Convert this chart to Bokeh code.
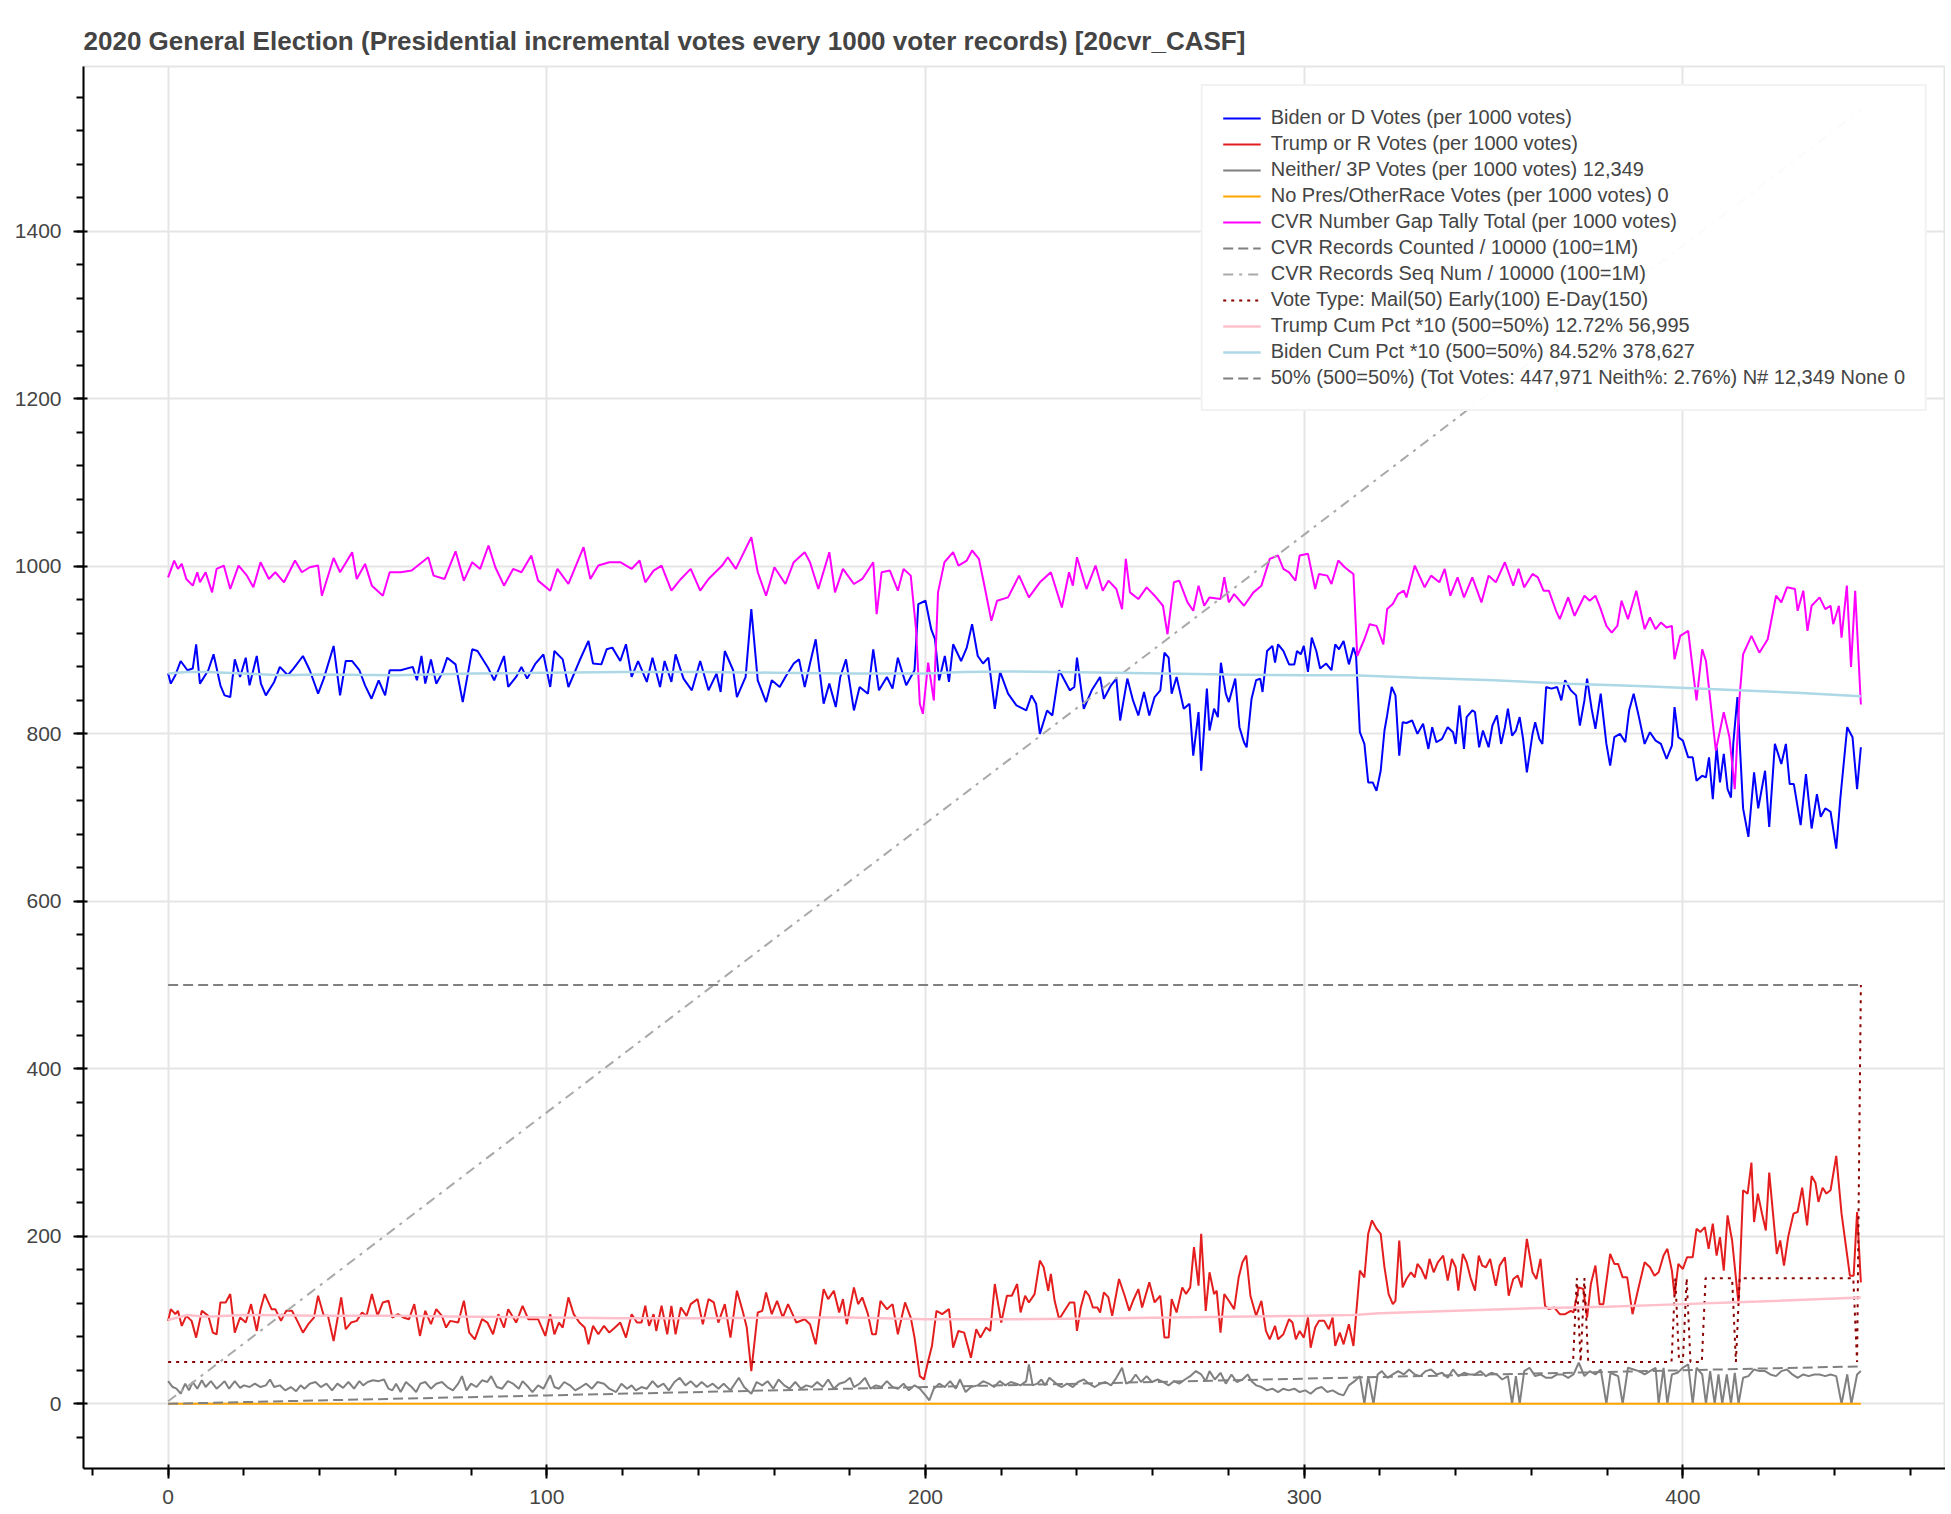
from bokeh.plotting import figure
from bokeh.models import Range1d, SingleIntervalTicker
from bokeh.embed import file_html
from bokeh.resources import INLINE

TITLE = "2020 General Election (Presidential incremental votes every 1000 voter records) [20cvr_CASF]"

LABELS = [
    "Biden or D Votes (per 1000 votes)",
    "Trump or R Votes (per 1000 votes)",
    "Neither/ 3P Votes (per 1000 votes) 12,349",
    "No Pres/OtherRace Votes (per 1000 votes) 0",
    "CVR Number Gap Tally Total (per 1000 votes)",
    "CVR Records Counted / 10000 (100=1M)",
    "CVR Records Seq Num / 10000 (100=1M)",
    "Vote Type: Mail(50) Early(100) E-Day(150)",
    "Trump Cum Pct *10 (500=50%) 12.72% 56,995",
    "Biden Cum Pct *10 (500=50%) 84.52% 378,627",
    "50% (500=50%) (Tot Votes: 447,971 Neith%: 2.76%) N# 12,349 None 0",
]

# (record block, value) readings
biden = [
    (0.0, 872), (0.7, 860), (1.9, 870), (3.3, 887), (5.1, 876), (6.5, 878), (7.4, 907), (8.4, 860),
    (10.6, 876), (12.0, 895), (13.8, 858), (14.9, 846), (16.4, 844), (17.6, 889), (19.0, 868), (20.5, 891),
    (21.5, 858), (23.4, 893), (24.5, 860), (25.8, 846), (28.0, 862), (29.5, 880), (31.6, 870), (33.1, 878),
    (35.6, 893), (37.4, 876), (39.6, 848), (41.1, 866), (43.7, 905), (45.4, 846), (46.9, 887), (48.6, 887),
    (50.5, 876), (52.0, 858), (53.7, 842), (55.6, 864), (57.3, 846), (58.5, 876), (61.4, 876), (64.6, 880),
    (65.7, 864), (66.9, 893), (67.9, 860), (69.4, 889), (70.8, 860), (72.3, 872), (73.7, 891), (75.9, 883),
    (77.8, 838), (80.3, 901), (81.7, 899), (84.6, 878), (86.1, 864), (88.7, 893), (89.8, 856), (91.9, 868),
    (93.3, 880), (94.8, 866), (97.0, 884), (99.1, 895), (100.9, 856), (102.0, 899), (104.2, 889), (105.7, 856),
    (108.6, 887), (111.0, 911), (112.2, 884), (114.4, 883), (115.8, 901), (117.3, 903), (119.4, 887), (120.9, 907),
    (122.4, 868), (124.1, 887), (126.4, 862), (127.9, 891), (129.9, 856), (131.1, 887), (132.9, 862), (134.0, 895),
    (136.1, 866), (138.3, 852), (140.5, 887), (142.7, 852), (144.8, 872), (145.9, 850), (147.0, 899), (149.2, 876),
    (150.2, 844), (152.5, 868), (154.0, 949), (155.7, 864), (157.9, 838), (159.4, 864), (161.5, 856), (163.0, 868),
    (165.2, 884), (166.6, 889), (168.1, 856), (169.5, 884), (171.0, 913), (173.1, 836), (174.6, 860), (176.3, 832),
    (177.5, 868), (179.0, 889), (181.1, 828), (182.6, 856), (184.8, 848), (186.2, 901), (187.7, 852), (189.8, 868),
    (191.3, 854), (192.7, 891), (194.9, 858), (197.1, 876), (198.1, 955), (200.0, 959), (201.5, 925), (202.5, 913),
    (203.6, 864), (205.1, 893), (206.2, 862), (207.3, 907), (209.4, 887), (210.9, 903), (212.3, 931), (213.8, 893),
    (215.2, 884), (216.6, 891), (218.3, 830), (219.7, 874), (221.8, 848), (224.0, 834), (226.6, 828), (228.0, 846),
    (229.2, 836), (230.2, 800), (232.1, 828), (233.5, 822), (235.3, 876), (236.7, 864), (238.1, 852), (239.3, 856),
    (240.0, 891), (241.8, 830), (243.9, 852), (246.1, 868), (247.1, 842), (249.0, 858), (250.4, 866), (251.4, 816),
    (253.3, 866), (254.8, 840), (256.2, 822), (257.7, 850), (259.1, 822), (260.5, 844), (262.0, 852), (263.1, 897),
    (264.2, 891), (265.0, 848), (266.3, 868), (268.2, 830), (269.7, 836), (270.7, 774), (272.1, 826), (272.8, 756),
    (274.3, 854), (275.0, 804), (276.2, 830), (277.2, 820), (278.0, 885), (279.3, 848), (280.1, 838), (281.8, 866),
    (282.9, 808), (284.1, 790), (284.8, 784), (286.1, 842), (287.3, 864), (288.4, 866), (289.0, 850), (290.2, 899),
    (291.6, 905), (292.3, 885), (293.1, 907), (294.5, 899), (296.0, 883), (297.4, 883), (298.1, 899), (299.1, 895),
    (299.9, 905), (301.0, 874), (302.0, 915), (303.2, 899), (304.2, 878), (305.8, 884), (307.2, 876), (308.2, 907),
    (309.2, 901), (310.4, 911), (311.8, 883), (313.0, 903), (313.7, 893), (314.7, 802), (315.9, 788), (316.9, 742),
    (318.1, 742), (319.1, 732), (320.2, 756), (321.2, 804), (321.9, 822), (323.1, 856), (324.1, 846), (325.1, 774),
    (326.0, 814), (327.0, 813), (328.5, 816), (329.9, 800), (331.4, 812), (332.8, 782), (333.8, 808), (334.9, 790),
    (336.4, 794), (337.9, 808), (339.3, 802), (340.0, 788), (341.0, 834), (342.2, 782), (342.9, 820), (344.4, 828),
    (345.1, 826), (346.2, 784), (347.2, 804), (348.7, 784), (349.7, 810), (350.9, 822), (352.0, 788), (353.0, 808),
    (353.8, 830), (354.9, 798), (355.9, 804), (356.9, 820), (357.8, 794), (358.8, 754), (360.3, 800), (361.0, 814),
    (362.1, 794), (362.9, 788), (363.9, 856), (365.3, 854), (366.8, 856), (367.9, 840), (368.9, 864), (370.4, 852),
    (371.8, 846), (372.8, 810), (374.0, 840), (374.7, 866), (375.9, 830), (376.9, 806), (378.3, 848), (379.8, 788),
    (380.8, 762), (381.9, 796), (383.4, 800), (384.8, 790), (385.8, 828), (387.0, 848), (388.4, 820), (389.9, 788),
    (391.3, 802), (392.8, 792), (394.2, 788), (395.7, 770), (397.1, 786), (397.8, 832), (398.8, 796), (400.0, 792),
    (401.4, 772), (402.6, 772), (403.6, 744), (405.1, 750), (406.1, 748), (406.9, 772), (407.9, 722), (408.9, 784),
    (409.8, 742), (410.8, 776), (411.8, 734), (412.7, 724), (413.3, 788), (414.4, 844), (415.9, 711), (417.3, 677),
    (418.8, 754), (419.9, 711), (421.7, 756), (422.8, 689), (424.3, 788), (426.0, 764), (427.2, 788), (428.2, 740),
    (429.3, 740), (431.1, 691), (432.5, 752), (434.0, 687), (435.4, 728), (436.4, 701), (437.6, 711), (439.0, 707),
    (440.5, 663), (441.6, 724), (443.4, 808), (444.8, 796), (446.0, 734), (447.0, 784),
]

trump = [
    (0.0, 99), (0.7, 113), (1.9, 107), (2.6, 111), (3.6, 93), (4.8, 105), (6.2, 99), (7.4, 79), (8.9, 111),
    (10.6, 105), (11.8, 85), (12.8, 83), (13.8, 121), (15.2, 121), (16.4, 131), (17.6, 85), (19.0, 103),
    (20.5, 97), (21.9, 119), (23.4, 87), (24.4, 113), (25.5, 131), (27.3, 113), (28.3, 113), (29.8, 99),
    (31.2, 111), (32.7, 111), (34.1, 99), (35.6, 85), (37.0, 95), (38.5, 103), (39.6, 129), (41.1, 105),
    (42.2, 105), (43.7, 75), (45.7, 127), (46.9, 89), (48.3, 97), (49.8, 99), (51.2, 109), (52.4, 105),
    (53.8, 131), (55.3, 105), (56.7, 121), (58.2, 123), (59.2, 103), (60.7, 107), (62.1, 103), (63.6, 101),
    (65.0, 119), (66.5, 81), (67.9, 111), (69.4, 95), (70.8, 113), (72.3, 105), (73.4, 91), (74.5, 99),
    (76.6, 97), (78.1, 123), (79.5, 85), (81.0, 77), (82.9, 101), (84.3, 97), (85.8, 83), (87.2, 107),
    (88.7, 91), (89.8, 113), (91.9, 97), (93.6, 117), (95.1, 101), (97.7, 101), (99.6, 81), (100.9, 107),
    (102.0, 83), (103.2, 97), (104.2, 91), (105.7, 127), (107.1, 107), (108.6, 97), (110.0, 91), (111.0, 71),
    (112.2, 93), (113.6, 83), (115.1, 93), (116.5, 85), (118.0, 91), (119.4, 97), (120.9, 79), (122.4, 107),
    (123.8, 97), (125.0, 97), (126.0, 117), (127.0, 93), (128.2, 107), (128.9, 87), (130.3, 117), (131.8, 83),
    (132.9, 117), (134.0, 83), (135.4, 115), (136.9, 105), (138.0, 119), (139.8, 125), (141.2, 95), (142.7, 125),
    (144.1, 121), (145.3, 97), (147.0, 119), (148.5, 79), (150.2, 135), (151.7, 111), (152.8, 91), (154.0, 39),
    (155.7, 109), (156.9, 111), (157.9, 133), (159.4, 107), (160.8, 123), (162.3, 103), (163.7, 119), (165.9, 97),
    (168.1, 101), (169.5, 95), (171.0, 71), (173.1, 137), (174.3, 125), (175.8, 135), (177.2, 109), (178.2, 125),
    (179.2, 95), (181.1, 139), (182.2, 119), (183.3, 127), (184.8, 107), (185.9, 83), (186.9, 83), (188.1, 123),
    (189.8, 113), (191.3, 119), (192.7, 83), (194.6, 121), (196.1, 103), (197.1, 79), (198.5, 33), (199.6, 29),
    (200.7, 51), (201.7, 69), (202.9, 111), (204.4, 107), (206.2, 113), (207.3, 67), (208.7, 87), (210.2, 85),
    (212.0, 55), (213.4, 89), (214.5, 79), (216.0, 91), (217.1, 87), (218.3, 143), (220.0, 97), (221.5, 129),
    (222.8, 129), (224.2, 143), (225.1, 109), (226.3, 129), (227.3, 121), (228.8, 131), (230.2, 171), (231.2, 163),
    (232.4, 135), (233.1, 155), (234.1, 123), (235.3, 101), (236.7, 111), (238.1, 121), (239.3, 121), (240.0, 87),
    (241.0, 115), (242.2, 135), (243.2, 129), (244.2, 115), (245.4, 115), (246.1, 109), (247.1, 133), (248.3, 127),
    (249.3, 105), (251.1, 149), (252.6, 129), (253.8, 111), (254.8, 123), (256.2, 137), (257.2, 115), (259.1, 145),
    (260.5, 121), (262.0, 129), (263.1, 79), (264.2, 79), (265.0, 125), (266.3, 109), (267.8, 139), (268.8, 131),
    (269.9, 139), (270.9, 187), (272.1, 141), (272.8, 203), (274.0, 111), (275.0, 157), (276.2, 131), (276.9, 135),
    (277.9, 85), (278.9, 131), (280.1, 123), (281.5, 113), (282.7, 151), (283.7, 169), (284.7, 177), (285.8, 129),
    (287.3, 105), (288.7, 123), (289.9, 87), (290.9, 77), (292.3, 93), (293.1, 77), (294.5, 83), (296.0, 101),
    (296.9, 97), (297.8, 77), (298.8, 87), (299.9, 79), (301.0, 103), (301.7, 67), (302.9, 91), (303.9, 99),
    (305.3, 99), (306.5, 89), (307.5, 103), (308.2, 69), (309.4, 85), (310.4, 71), (311.8, 95), (313.0, 69),
    (314.7, 159), (315.9, 151), (316.9, 203), (317.9, 219), (319.1, 209), (320.2, 203), (321.2, 163), (322.3, 131),
    (323.4, 119), (324.1, 123), (325.1, 195), (326.0, 139), (327.0, 149), (328.2, 157), (329.2, 151), (329.9, 167),
    (330.9, 161), (332.1, 149), (333.1, 173), (334.2, 157), (335.3, 169), (336.7, 177), (337.9, 147), (339.0, 173),
    (340.0, 163), (340.7, 135), (341.9, 179), (342.9, 169), (343.9, 151), (345.1, 135), (346.1, 177), (347.0, 165),
    (348.0, 163), (349.1, 173), (350.6, 141), (351.6, 165), (353.0, 175), (354.0, 129), (355.2, 149), (356.4, 153),
    (357.4, 139), (358.8, 197), (360.3, 157), (361.3, 149), (362.4, 173), (363.6, 117), (364.6, 113), (366.0, 115),
    (367.5, 107), (368.9, 107), (370.4, 111), (371.1, 109), (372.5, 139), (373.7, 137), (374.7, 103), (375.7, 143),
    (376.9, 165), (378.0, 119), (379.0, 119), (380.8, 179), (381.9, 167), (382.9, 167), (384.1, 151), (385.3, 151),
    (386.7, 107), (388.1, 135), (389.9, 169), (391.3, 163), (392.5, 153), (393.6, 157), (394.9, 177), (395.9, 185),
    (397.1, 159), (397.8, 129), (398.8, 167), (400.0, 161), (401.1, 175), (402.6, 175), (403.6, 209), (404.6, 205),
    (405.8, 211), (406.8, 185), (407.9, 215), (408.9, 177), (409.8, 199), (410.8, 159), (411.8, 225), (413.0, 195),
    (414.7, 119), (415.9, 255), (417.1, 251), (418.1, 288), (418.8, 217), (419.8, 251), (420.9, 227), (421.9, 207),
    (422.8, 276), (423.8, 227), (424.8, 179), (425.7, 195), (426.7, 165), (427.8, 199), (429.2, 227), (430.3, 229),
    (431.5, 258), (432.8, 213), (434.0, 272), (435.0, 264), (435.8, 241), (436.9, 258), (437.9, 251), (439.0, 255),
    (440.5, 296), (441.9, 227), (444.1, 153), (445.1, 153), (446.0, 229), (447.0, 145),
]

neither = [
    (0.0, 27), (1.2, 20), (2.2, 18), (3.3, 12), (4.5, 24), (5.5, 16), (6.5, 26), (7.7, 18), (8.9, 28),
    (9.9, 20), (11.3, 27), (12.8, 18), (13.8, 22), (14.9, 27), (16.1, 18), (17.6, 27), (19.0, 19), (20.0, 22),
    (21.5, 20), (22.9, 24), (24.4, 20), (25.8, 22), (26.9, 29), (28.0, 20), (29.5, 22), (30.9, 16), (32.4, 20),
    (33.8, 15), (35.0, 22), (36.0, 18), (37.4, 24), (38.9, 26), (40.3, 20), (41.8, 24), (43.3, 16), (44.7, 24),
    (46.2, 19), (47.6, 26), (49.1, 18), (50.5, 27), (51.5, 22), (52.7, 26), (54.1, 28), (55.6, 27), (57.0, 29),
    (58.2, 18), (59.2, 16), (60.2, 24), (61.4, 14), (62.8, 26), (64.3, 20), (65.5, 14), (66.6, 24), (67.9, 26),
    (69.4, 18), (70.8, 24), (72.3, 26), (73.7, 20), (75.2, 16), (76.6, 24), (77.6, 33), (78.8, 16), (80.0, 24),
    (81.4, 20), (82.9, 28), (84.3, 26), (85.3, 33), (86.8, 20), (88.2, 18), (89.7, 27), (91.1, 24), (92.6, 18),
    (93.6, 27), (95.1, 20), (96.2, 14), (97.7, 22), (99.1, 18), (100.9, 34), (102.0, 20), (103.2, 18), (104.6, 26),
    (106.1, 22), (107.5, 16), (109.0, 20), (110.4, 24), (111.9, 18), (113.4, 26), (115.1, 24), (116.5, 18),
    (118.3, 14), (119.7, 24), (121.2, 18), (122.4, 22), (123.5, 16), (125.0, 20), (126.4, 18), (127.9, 27),
    (129.3, 20), (130.8, 24), (132.2, 16), (133.7, 26), (135.1, 31), (136.6, 22), (138.0, 27), (139.5, 20),
    (140.9, 26), (142.4, 20), (143.8, 24), (145.3, 18), (146.7, 24), (148.5, 16), (150.7, 31), (152.1, 20),
    (154.0, 12), (155.4, 26), (156.9, 22), (158.3, 27), (159.8, 18), (161.2, 29), (162.7, 22), (164.1, 18),
    (165.6, 26), (167.1, 18), (168.5, 22), (170.0, 20), (171.4, 26), (172.9, 20), (174.3, 29), (175.8, 18),
    (177.2, 24), (178.7, 26), (180.1, 31), (181.1, 20), (182.6, 24), (184.0, 31), (185.5, 18), (186.9, 22),
    (188.4, 20), (189.8, 27), (191.3, 20), (192.7, 18), (194.2, 24), (195.6, 16), (197.1, 22), (198.5, 18),
    (200.0, 10), (201.0, 4), (202.2, 18), (203.6, 24), (205.1, 20), (206.5, 27), (208.0, 18), (209.1, 29),
    (210.6, 14), (212.0, 20), (213.8, 22), (215.2, 27), (216.7, 24), (218.1, 20), (219.6, 27), (221.1, 22),
    (222.5, 26), (224.0, 24), (225.1, 22), (226.6, 27), (227.3, 47), (228.3, 22), (229.5, 24), (230.6, 29),
    (231.6, 22), (232.7, 31), (233.8, 27), (235.0, 22), (236.0, 20), (237.4, 24), (238.9, 20), (240.3, 26),
    (241.8, 29), (243.2, 24), (244.7, 20), (246.1, 24), (247.5, 26), (249.0, 22), (250.4, 31), (251.9, 43),
    (253.0, 24), (254.3, 27), (255.5, 35), (256.9, 26), (258.4, 33), (259.8, 26), (261.3, 29), (262.7, 26),
    (264.2, 22), (265.6, 27), (267.0, 24), (268.5, 29), (269.9, 33), (271.4, 39), (272.8, 35), (274.0, 27),
    (275.0, 39), (276.4, 29), (277.9, 37), (279.3, 24), (280.8, 35), (282.2, 26), (283.7, 29), (285.1, 35),
    (286.1, 27), (287.3, 22), (288.7, 20), (290.2, 16), (291.6, 18), (293.1, 14), (294.5, 18), (295.9, 16),
    (297.4, 18), (298.8, 14), (300.3, 16), (301.7, 12), (303.2, 18), (304.6, 20), (306.1, 14), (307.5, 16),
    (309.0, 12), (310.4, 10), (311.8, 22), (313.3, 27), (314.7, 33), (315.9, 0), (316.9, 33), (318.3, 0),
    (319.4, 35), (320.5, 39), (322.0, 31), (323.4, 35), (324.8, 39), (326.3, 35), (327.7, 41), (329.2, 35),
    (330.6, 33), (332.1, 39), (333.5, 41), (335.0, 35), (336.4, 37), (337.9, 31), (339.3, 41), (340.7, 33),
    (342.2, 37), (343.6, 35), (345.1, 35), (346.5, 39), (348.0, 33), (349.4, 37), (350.9, 35), (352.3, 29),
    (353.8, 33), (354.9, 0), (355.9, 33), (356.9, 0), (358.1, 39), (359.5, 43), (361.0, 33), (362.4, 35),
    (363.9, 31), (365.3, 31), (366.8, 35), (368.2, 35), (369.7, 31), (371.1, 35), (372.5, 49), (374.0, 33),
    (375.4, 39), (376.9, 35), (378.3, 41), (379.8, 0), (380.9, 37), (381.9, 35), (382.9, 33), (384.1, 0),
    (385.5, 43), (387.0, 41), (388.4, 39), (389.9, 35), (391.3, 39), (392.8, 43), (393.6, 0), (394.9, 43),
    (395.9, 0), (397.1, 35), (398.6, 37), (400.0, 43), (401.4, 47), (402.6, 0), (403.6, 43), (405.1, 35),
    (406.1, 0), (407.2, 39), (408.4, 0), (409.4, 35), (410.4, 0), (411.6, 35), (412.7, 0), (413.7, 37),
    (414.7, 0), (415.9, 31), (417.3, 33), (418.8, 41), (420.2, 39), (421.7, 39), (423.1, 35), (424.6, 33),
    (426.0, 39), (427.5, 41), (428.9, 35), (430.3, 31), (431.8, 35), (433.2, 33), (434.7, 35), (436.1, 35),
    (437.6, 33), (439.0, 35), (440.5, 33), (441.9, 0), (443.4, 35), (444.5, 0), (446.0, 35), (447.0, 39),
]

no_pres = [(0, 0), (447, 0)]

gap_tally = [
    (0.0, 987), (1.6, 1007), (2.6, 997), (3.6, 1003), (4.8, 985), (6.5, 977), (7.7, 993), (8.4, 981), (9.9, 993),
    (11.6, 969), (12.8, 997), (14.7, 1001), (16.4, 973), (18.6, 1001), (20.8, 989), (22.5, 975), (24.4, 1005),
    (26.6, 985), (28.3, 993), (30.6, 981), (33.5, 1007), (35.3, 993), (37.4, 999), (39.6, 1001), (40.6, 965),
    (43.7, 1010), (45.4, 993), (48.6, 1017), (49.8, 985), (52.0, 1003), (53.8, 977), (56.7, 965), (58.5, 993),
    (61.4, 993), (64.3, 995), (68.7, 1011), (70.1, 989), (73.0, 985), (75.9, 1018), (78.1, 983), (80.3, 1005),
    (82.4, 997), (84.6, 1025), (86.4, 999), (88.7, 977), (91.1, 997), (93.3, 993), (95.9, 1013), (97.7, 983),
    (100.9, 971), (102.8, 997), (105.7, 979), (109.7, 1023), (111.5, 985), (113.6, 1001), (116.5, 1005),
    (119.4, 1005), (122.4, 997), (124.5, 1007), (126.0, 981), (128.2, 995), (130.3, 1001), (132.9, 971),
    (135.4, 985), (138.0, 997), (140.5, 971), (142.7, 985), (146.3, 1001), (147.8, 1011), (149.9, 997),
    (154.0, 1035), (155.7, 993), (157.9, 965), (160.1, 999), (163.0, 979), (165.2, 1005), (168.1, 1017),
    (169.5, 1005), (171.7, 973), (174.6, 1017), (176.1, 969), (178.2, 997), (181.1, 979), (183.3, 985),
    (186.2, 1005), (187.1, 943), (188.4, 993), (190.6, 995), (192.7, 971), (194.2, 997), (196.1, 989),
    (197.5, 925), (198.5, 836), (199.3, 824), (200.7, 885), (202.2, 840), (203.3, 969), (205.0, 1005),
    (207.3, 1017), (208.7, 1001), (210.9, 1007), (212.3, 1019), (214.1, 1009), (215.2, 985), (217.4, 935),
    (218.9, 959), (221.8, 963), (224.7, 989), (227.3, 963), (230.2, 981), (233.1, 993), (236.0, 951),
    (237.9, 993), (238.9, 977), (240.0, 1011), (242.5, 973), (244.9, 1001), (246.8, 971), (248.3, 983),
    (250.4, 973), (251.9, 949), (252.9, 1009), (254.0, 969), (256.2, 961), (258.4, 975), (260.5, 965),
    (262.7, 953), (263.9, 919), (265.6, 981), (267.0, 983), (269.2, 957), (270.7, 947), (272.1, 977),
    (273.6, 953), (275.0, 963), (277.9, 961), (278.9, 987), (280.1, 957), (281.5, 967), (284.1, 953),
    (286.6, 969), (288.7, 977), (290.9, 1009), (293.1, 1013), (294.5, 997), (296.0, 993), (297.7, 983),
    (298.8, 1013), (301.0, 1015), (302.9, 973), (303.9, 991), (306.1, 989), (307.2, 979), (309.0, 1007),
    (310.7, 999), (311.8, 995), (313.0, 991), (314.0, 893), (315.9, 913), (317.3, 931), (319.1, 929),
    (320.9, 907), (321.9, 949), (323.4, 955), (324.8, 967), (326.3, 971), (327.0, 963), (329.2, 1001),
    (331.8, 975), (333.5, 989), (335.7, 981), (337.1, 997), (338.6, 965), (340.5, 987), (342.2, 963),
    (344.4, 987), (346.8, 957), (348.7, 989), (350.6, 981), (353.0, 1005), (355.2, 977), (356.6, 997),
    (358.1, 975), (360.3, 991), (361.7, 987), (363.2, 971), (364.6, 971), (366.5, 947), (367.5, 937),
    (369.7, 963), (371.4, 941), (374.0, 965), (375.4, 959), (376.9, 965), (378.3, 949), (379.8, 929),
    (381.2, 921), (382.7, 929), (383.8, 959), (385.5, 937), (387.7, 971), (389.9, 925), (391.3, 939),
    (392.8, 925), (394.2, 933), (395.7, 927), (397.1, 929), (397.8, 889), (399.3, 917), (401.4, 923),
    (403.6, 840), (405.1, 901), (406.1, 887), (408.7, 780), (410.8, 826), (412.3, 796), (413.7, 734),
    (414.9, 840), (415.9, 895), (418.1, 917), (420.2, 897), (422.4, 913), (424.6, 965), (426.0, 957),
    (427.5, 975), (429.6, 973), (430.3, 947), (431.8, 971), (432.9, 923), (434.0, 953), (436.1, 963),
    (437.6, 949), (439.0, 953), (439.7, 931), (441.2, 953), (441.9, 915), (443.3, 977), (444.4, 880),
    (445.5, 971), (447.0, 835),
]

records_counted = [(0, 0), (100, 10), (200, 20), (300, 30), (400, 40), (447, 44.7)]
records_seq = [(0, 3), (100, 348), (200, 693), (300, 1038), (400, 1383), (447, 1545)]

vote_type = [
    (0, 50), (371, 50), (372, 150), (373, 50), (374, 150), (375, 50), (397, 50), (398, 150), (399, 50),
    (400, 50), (401, 150), (402, 50), (405, 50), (406, 150), (413, 150), (414, 50), (415, 150), (445, 150),
    (446, 50), (447, 500),
]

trump_cum = [
    (0, 100), (5, 106), (10, 104), (20, 106), (40, 105), (60, 105), (80, 104), (100, 103), (120, 102),
    (140, 102), (160, 103), (180, 103), (200, 101), (222, 101), (250, 102), (280, 104), (300, 105), (313, 106),
    (320, 108), (340, 111), (360, 114), (380, 116), (400, 119), (420, 122), (447, 127),
]

biden_cum = [
    (0, 872), (5, 874), (10, 874), (20, 872), (30, 870), (40, 871), (60, 870), (80, 872), (100, 873),
    (120, 874), (140, 874), (160, 873), (180, 872), (200, 872), (210, 874), (222, 874.5), (250, 873),
    (280, 871), (300, 870), (313, 870), (330, 867), (350, 864), (370, 860), (390, 857), (410, 853),
    (430, 849), (447, 845),
]

fifty_pct = [(0, 500), (447, 500)]

X_RANGE = (-22.35, 469.35)
Y_RANGE = (-77.3, 1597)

FONT = "Liberation Sans"


def xs(series):
    return [pt[0] for pt in series]


def ys(series):
    return [pt[1] for pt in series]


p = figure(
    width=1945, height=1508,
    output_backend="svg", toolbar_location=None,
    x_range=Range1d(*X_RANGE), y_range=Range1d(*Y_RANGE),
    title=TITLE,
    min_border_left=83, min_border_right=0, min_border_top=66, min_border_bottom=40,
)

p.title.text_font = FONT
p.title.text_font_size = "26px"
p.title.text_font_style = "bold"
p.title.text_color = "#444444"
p.title.standoff = 22

p.outline_line_color = "#e5e5e5"
p.outline_line_width = 2

p.xaxis.ticker = SingleIntervalTicker(interval=100, num_minor_ticks=5)
p.yaxis.ticker = SingleIntervalTicker(interval=200, num_minor_ticks=5)

for ax in (p.xaxis[0], p.yaxis[0]):
    ax.major_label_text_font = FONT
    ax.major_label_text_font_size = "21px"
    ax.major_label_text_color = "#444444"
    ax.axis_line_width = 2
    ax.axis_line_color = "black"
    ax.major_tick_line_width = 2
    ax.minor_tick_line_width = 2
    ax.major_tick_line_color = "black"
    ax.minor_tick_line_color = "black"
    ax.major_tick_out = 10
    ax.major_tick_in = 4
    ax.minor_tick_out = 7
    ax.minor_tick_in = 0
p.xaxis.major_label_standoff = 11
p.yaxis.major_label_standoff = 12

p.xgrid.grid_line_color = "#e5e5e5"
p.ygrid.grid_line_color = "#e5e5e5"
p.xgrid.grid_line_width = 2
p.ygrid.grid_line_width = 2

p.line(xs(biden), ys(biden), line_color="blue", line_width=2, legend_label=LABELS[0])
p.line(xs(trump), ys(trump), line_color="#e41e1e", line_width=2, legend_label=LABELS[1])
p.line(xs(neither), ys(neither), line_color="grey", line_width=2, legend_label=LABELS[2])
p.line(xs(no_pres), ys(no_pres), line_color="orange", line_width=2, legend_label=LABELS[3])
p.line(xs(gap_tally), ys(gap_tally), line_color="magenta", line_width=2, legend_label=LABELS[4])
p.line(xs(records_counted), ys(records_counted), line_color="grey", line_width=2,
       line_dash="10 5", legend_label=LABELS[5])
p.line(xs(records_seq), ys(records_seq), line_color="darkgrey", line_width=2,
       line_dash="10 6 3 6", legend_label=LABELS[6])
p.line(xs(vote_type), ys(vote_type), line_color="darkred", line_width=2,
       line_dash="3 5", legend_label=LABELS[7])
p.line(xs(trump_cum), ys(trump_cum), line_color="pink", line_width=2.5, legend_label=LABELS[8])
p.line(xs(biden_cum), ys(biden_cum), line_color="lightblue", line_width=2.5, legend_label=LABELS[9])
p.line(xs(fifty_pct), ys(fifty_pct), line_color="grey", line_width=2,
       line_dash="10 5", legend_label=LABELS[10])

lg = p.legend[0]
lg.location = "top_right"
lg.margin = 18
lg.padding = 20
lg.spacing = 3
lg.glyph_width = 38
lg.glyph_height = 20
lg.label_height = 20
lg.label_standoff = 10
lg.label_text_font = FONT
lg.label_text_font_size = "20px"
lg.label_text_color = "#444444"
lg.border_line_color = "#e5e5e5"
lg.border_line_width = 2
lg.background_fill_alpha = 0.95

open("out.html", "w").write(file_html(p, INLINE))
